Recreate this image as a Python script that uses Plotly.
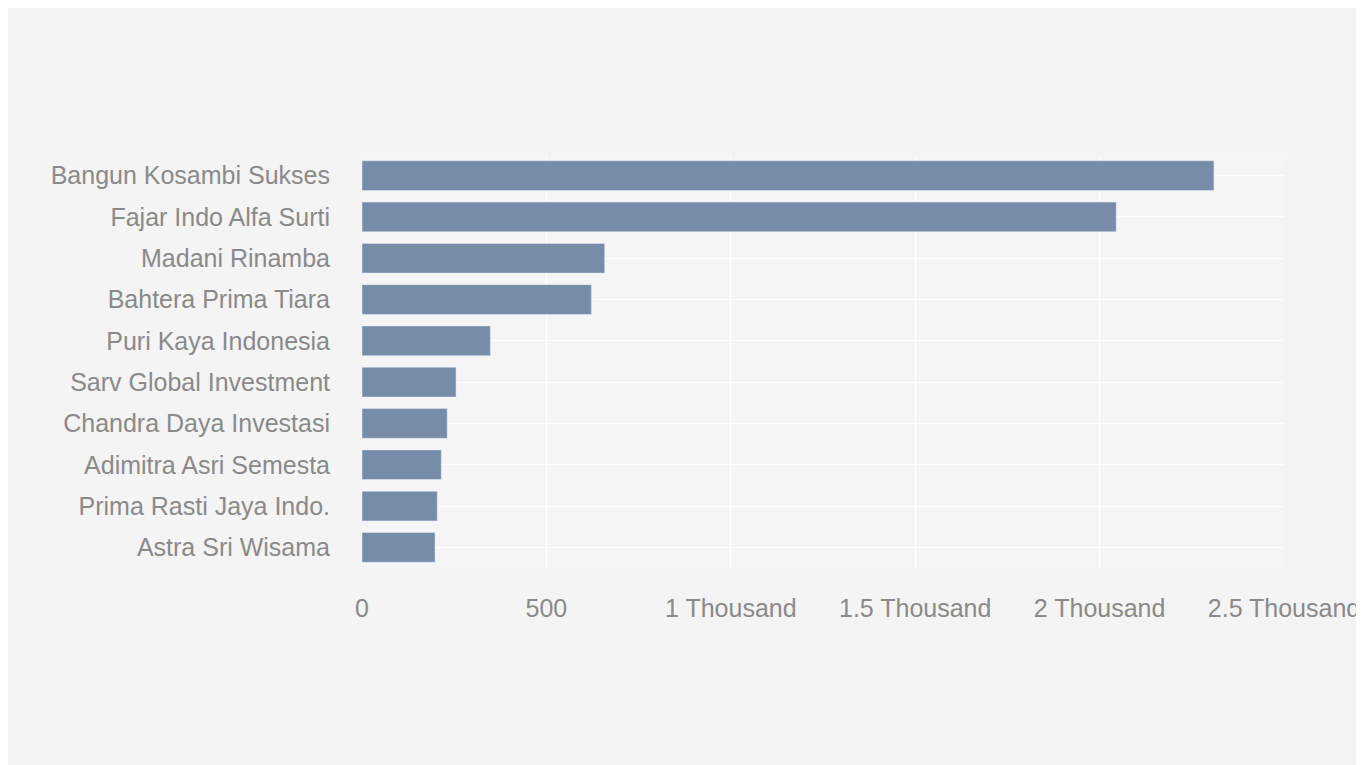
import plotly.graph_objects as go

# -----------------------------
# Data
# -----------------------------
companies = [
    "Bangun Kosambi Sukses",
    "Fajar Indo Alfa Surti",
    "Madani Rinamba",
    "Bahtera Prima Tiara",
    "Puri Kaya Indonesia",
    "Sarv Global Investment",
    "Chandra Daya Investasi",
    "Adimitra Asri Semesta",
    "Prima Rasti Jaya Indo.",
    "Astra Sri Wisama",
]
values = [2310, 2045, 658, 622, 348, 255, 231, 215, 204, 198]

tick_vals = [0, 500, 1000, 1500, 2000, 2500]
tick_text = ["0", "500", "1 Thousand", "1.5 Thousand", "2 Thousand", "2.5 Thousand"]

# -----------------------------
# Chart
# -----------------------------
fig = go.Figure()

fig.add_trace(go.Bar(
    x=values,
    y=companies,
    orientation="h",
    marker=dict(color="#778ca8"),
    width=0.72,
))

fig.update_layout(
    width=1364,
    height=765,
    paper_bgcolor="#f4f4f4",
    plot_bgcolor="#f5f5f5",
    margin=dict(l=354, r=83, t=147, b=205),
    font=dict(family="Arial, Liberation Sans, sans-serif", size=25, color="#8a8a8a"),
    showlegend=False,
)

fig.update_xaxes(
    range=[0, 2500],
    tickvals=tick_vals,
    ticktext=tick_text,
    showgrid=True,
    gridcolor="#ffffff",
    zeroline=False,
    ticks="outside",
    ticklen=18,
    tickcolor="rgba(0,0,0,0)",
)

fig.update_yaxes(
    autorange="reversed",
    showgrid=True,
    gridcolor="#ffffff",
    ticks="outside",
    ticklen=26,
    tickcolor="rgba(0,0,0,0)",
)

fig.write_html("out.html")
